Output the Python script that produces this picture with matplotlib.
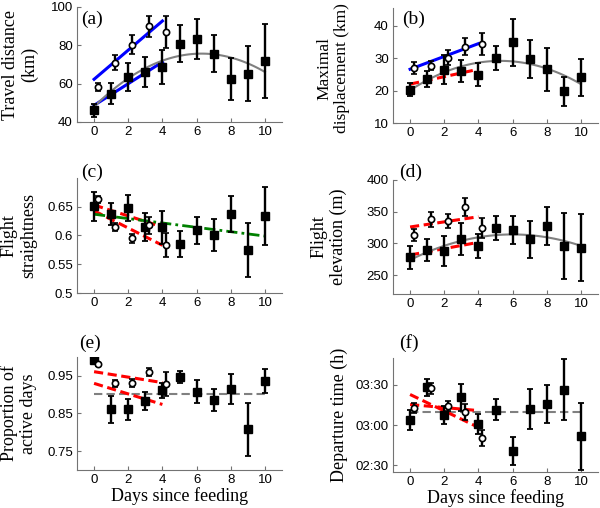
import matplotlib
matplotlib.use("Agg")
import matplotlib.pyplot as plt
import numpy as np

# days since feeding; open circles are plotted slightly to the right
days = np.arange(0, 11)
days_sub = np.arange(0, 5) + 0.2

# (a) travel distance (km)
dist_mean = [46.0, 54.8, 63.5, 66.1, 68.7, 80.9, 83.5, 75.7, 62.3, 65.2, 71.8]
dist_err = [3.3, 5.4, 7.5, 7.8, 8.8, 9.5, 10.4, 9.5, 10.9, 14.3, 19.5]
dist_sub_mean = [58.4, 70.8, 80.3, 89.9, 87.0]
dist_sub_err = [2.0, 3.9, 5.0, 5.6, 8.5]
dist_lines = [(62.3, 92.7, "blue"), (48.7, 71.3, "blue")]
dist_quad = [48.0, 8.79, -0.698]

# (b) maximal displacement (km)
disp_mean = [20.3, 23.6, 26.4, 26.1, 24.9, 30.2, 34.9, 29.7, 26.6, 19.8, 24.1]
disp_err = [2.0, 2.6, 4.5, 3.3, 3.5, 3.7, 7.3, 5.9, 6.6, 4.5, 5.7]
disp_sub_mean = [27.0, 27.7, 30.2, 33.6, 34.4]
disp_sub_err = [1.9, 1.4, 2.2, 2.5, 3.4]
disp_lines = [(26.6, 34.5, "blue"), (22.0, 26.6, "red")]
disp_quad = [20.1, 3.43, -0.324]

# (c) flight straightness
straight_mean = [0.651, 0.638, 0.648, 0.615, 0.614, 0.585, 0.609, 0.601, 0.637, 0.574, 0.634]
straight_err = [0.025, 0.019, 0.023, 0.024, 0.028, 0.023, 0.024, 0.028, 0.031, 0.047, 0.05]
straight_sub_mean = [0.663, 0.615, 0.595, 0.618, 0.584]
straight_sub_err = [0.006, 0.007, 0.008, 0.015, 0.021]
straight_lines = [(0.653, 0.615, "red"), (0.643, 0.583, "red")]
straight_trend = (0.637, 0.599)

# (d) flight elevation (m)
elev_mean = [277.9, 289.5, 288.0, 306.8, 295.8, 323.7, 321.0, 306.3, 327.9, 295.8, 293.0]
elev_err = [18, 18, 23, 25.5, 18.4, 19, 22, 29, 30, 52, 53]
elev_sub_mean = [313.0, 337.9, 335.8, 357.9, 323.7]
elev_sub_err = [9.5, 12, 11, 14, 16]
elev_lines = [(325.8, 342.0, "red"), (281.6, 301.6, "red")]
elev_quad = [273.7, 13.44, -1.12]

# (e) proportion of active days
active_mean = [0.992, 0.861, 0.861, 0.882, 0.912, 0.946, 0.908, 0.886, 0.915, 0.808, 0.937]
active_err = [0.004, 0.036, 0.028, 0.024, 0.02, 0.016, 0.03, 0.03, 0.04, 0.07, 0.032]
active_sub_mean = [0.981, 0.930, 0.931, 0.961, 0.928]
active_sub_err = [0.004, 0.009, 0.01, 0.011, 0.032]
active_lines = [(0.961, 0.932, "red"), (0.930, 0.874, "red")]
active_level = 0.902

# (f) departure time, minutes after midnight
dep_mean = [184.0, 208.2, 187.5, 200.8, 180.8, 191.5, 160.8, 192.0, 195.8, 206.5, 171.5]
dep_err = [7.5, 6.5, 7.0, 10.0, 7.7, 7.9, 10.6, 14.8, 14.4, 22.9, 25.0]
dep_sub_mean = [192.8, 207.5, 194.5, 189.5, 170.3]
dep_sub_err = [4.0, 4.0, 3.8, 5.9, 5.9]
dep_lines = [(202.8, 178.3, "red"), (195.3, 190.8, "red")]
dep_level = 189.5
dep_ticks = [150, 180, 210]
dep_ticklabels = ["02:30", "03:00", "03:30"]

SERIF = "Liberation Serif"
SANS = "Liberation Sans"


def draw_panel(ax, mean, err, sub_mean, sub_err, lines):
    for y0, y1, col in lines:
        ls = "-" if col == "blue" else (0, (3, 1.5))
        ax.plot([0, 4], [y0, y1], color=col, lw=2.2, ls=ls, zorder=3)
    ax.errorbar(days, mean, yerr=err, fmt="s", color="black", ms=5.5,
                elinewidth=1.7, capsize=2.5, capthick=1.3, zorder=4)
    ax.errorbar(days_sub, sub_mean, yerr=sub_err, fmt="o", color="black",
                mfc="white", mec="black", mew=1.2, ms=4.5,
                elinewidth=1.7, capsize=2.5, capthick=1.3, zorder=5)


def style(ax, yticks, ylabel, lx, letter, ly, lxx=0.02, yticklabels=None,
          label_y=0.5, label_size=13):
    ax.set_xlim(-1, 11)
    ax.set_xticks([0, 2, 4, 6, 8, 10])
    ax.set_yticks(yticks)
    if yticklabels is not None:
        ax.set_yticklabels(yticklabels)
    for sp in ["top", "right"]:
        ax.spines[sp].set_visible(False)
    for sp in ["left", "bottom"]:
        ax.spines[sp].set_color("0.45")
    ax.tick_params(direction="in", length=3, color="0.45", labelsize=9.5, pad=3)
    for t in ax.get_xticklabels() + ax.get_yticklabels():
        t.set_fontfamily(SANS)
    ax.set_ylabel(ylabel, fontfamily=SERIF, fontsize=label_size, va="center",
                  linespacing=1.15)
    ax.yaxis.set_label_coords(lx, label_y)
    ax.text(lxx, ly, letter, transform=ax.transAxes, fontfamily=SERIF,
            fontsize=14, ha="left", va="center")


fig = plt.figure(figsize=(6, 5.08), dpi=100)
W, H = 600, 508


def add_axes(left, top, right, bottom):
    return fig.add_axes([left / W, 1 - bottom / H, (right - left) / W, (bottom - top) / H])


ax_a = add_axes(77, 7, 282, 122)
ax_b = add_axes(393, 8, 598, 123)
ax_c = add_axes(77, 178, 282, 293)
ax_d = add_axes(393, 180, 598, 294)
ax_e = add_axes(77, 357, 282, 470)
ax_f = add_axes(393, 358, 598, 472)

xs = np.linspace(0, 10, 100)

# (a)
draw_panel(ax_a, dist_mean, dist_err, dist_sub_mean, dist_sub_err, dist_lines)
ax_a.plot(xs, np.polyval(dist_quad[::-1], xs), color="0.5", lw=1.5, zorder=3)
ax_a.set_ylim(40, 100)
style(ax_a, [40, 60, 80, 100], "Travel distance\n(km)", -0.278, "(a)", 0.89)

# (b)
draw_panel(ax_b, disp_mean, disp_err, disp_sub_mean, disp_sub_err, disp_lines)
ax_b.plot(xs, np.polyval(disp_quad[::-1], xs), color="0.5", lw=1.5, zorder=3)
ax_b.set_ylim(10, 45.5)
style(ax_b, [10, 20, 30, 40], "Maximal\ndisplacement (km)", -0.293, "(b)", 0.9,
      lxx=0.045, label_y=0.475, label_size=12.5)

# (c)
draw_panel(ax_c, straight_mean, straight_err, straight_sub_mean, straight_sub_err, straight_lines)
ax_c.plot([0, 10], straight_trend, color="green", lw=2, ls=(0, (4, 1.5, 1, 1.5)), zorder=3)
ax_c.set_ylim(0.5, 0.7)
style(ax_c, [0.5, 0.55, 0.6, 0.65], "Flight\nstraightness", -0.283, "(c)", 1.05,
      yticklabels=["0.5", "0.55", "0.6", "0.65"])

# (d)
draw_panel(ax_d, elev_mean, elev_err, elev_sub_mean, elev_sub_err, elev_lines)
ax_d.plot(xs, np.polyval(elev_quad[::-1], xs), color="0.5", lw=1.5, zorder=3)
ax_d.set_ylim(220, 400)
style(ax_d, [250, 300, 350, 400], "Flight\nelevation (m)", -0.312, "(d)", 1.07, lxx=0.03)

# (e)
draw_panel(ax_e, active_mean, active_err, active_sub_mean, active_sub_err, active_lines)
ax_e.plot([0, 10], [active_level, active_level], color="0.5", lw=1.5, ls=(0, (4, 2)), zorder=2)
ax_e.set_ylim(0.7, 1.0)
style(ax_e, [0.75, 0.85, 0.95], "Proportion of\nactive days", -0.283, "(e)", 1.12, lxx=0.01)

# (f)
draw_panel(ax_f, dep_mean, dep_err, dep_sub_mean, dep_sub_err, dep_lines)
ax_f.plot([0, 10], [dep_level, dep_level], color="0.5", lw=1.5, ls=(0, (4, 2)), zorder=2)
ax_f.set_ylim(145, 230)
style(ax_f, dep_ticks, "Departure time (h)", -0.263, "(f)", 1.13, lxx=0.03,
      yticklabels=dep_ticklabels)

for ax in (ax_e, ax_f):
    ax.set_xlabel("Days since feeding", fontfamily=SERIF, fontsize=13, labelpad=1)

fig.savefig("out.png", dpi=100)
